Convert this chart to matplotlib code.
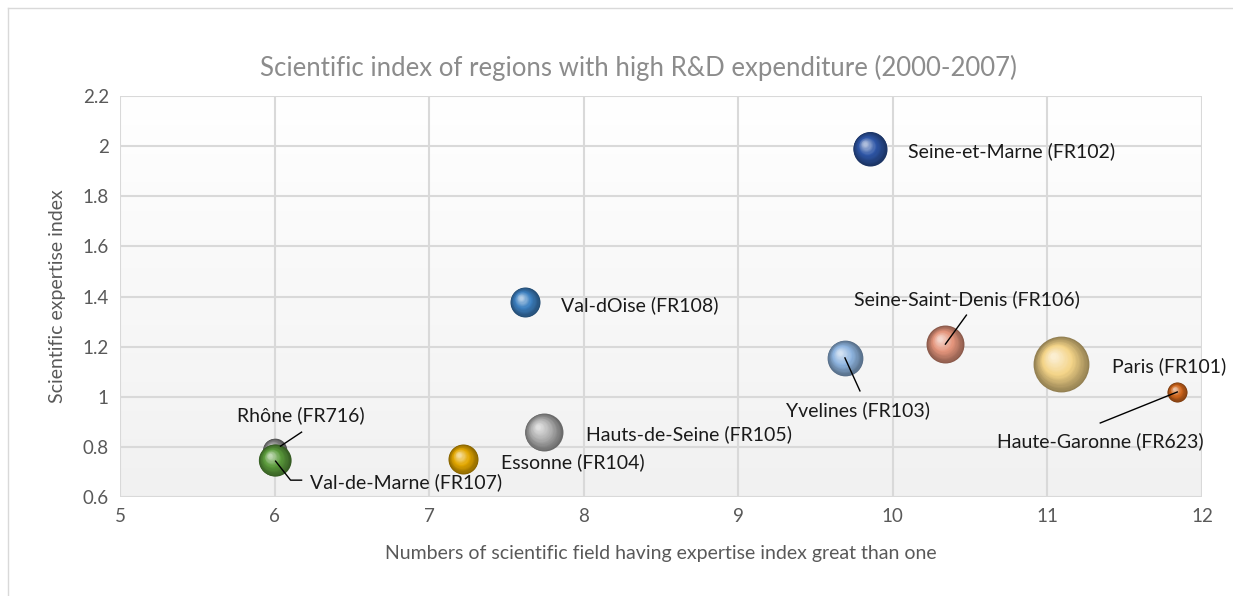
#!/usr/bin/env python3

import numpy as np
import matplotlib
matplotlib.use('Agg')
import matplotlib.pyplot as plt
import matplotlib.transforms as mtransforms
from matplotlib.lines import Line2D

plt.rcParams['font.family'] = ['Lato', 'DejaVu Sans']

regions = ['Rhône (FR716)', 'Val-de-Marne (FR107)', 'Essonne (FR104)', 'Hauts-de-Seine (FR105)',
           'Val-dOise (FR108)', 'Yvelines (FR103)', 'Seine-et-Marne (FR102)',
           'Seine-Saint-Denis (FR106)', 'Paris (FR101)', 'Haute-Garonne (FR623)']
n_fields = [6.0, 6.0, 7.22, 7.74, 7.62, 9.69, 9.85, 10.34, 11.09, 11.84]
expertise = [0.787, 0.747, 0.751, 0.859, 1.378, 1.155, 1.99, 1.21, 1.13, 1.019]
bubble = [1.4, 2.6, 2.25, 3.6, 2.25, 3.2, 2.9, 3.6, 7.8, 1.0]
colors = ['#8c8c8c', '#5b9b3c', '#e3a700', '#b0b0b0', '#3d80c0', '#8fb5e0',
          '#2e56a6', '#e4957c', '#f4d488', '#d0661c']

# label offsets (pixels from bubble centre), alignment, optional leader line
label_off = [(26, 35), (35, -22), (38, -3), (42, -2), (36, -3), (13, -52),
             (38, -3), (22, 45), (51, -2), (-77, -49)]
label_ha = ['center', 'left', 'left', 'left', 'left', 'center', 'left', 'center', 'left', 'center']
leaders = {0: [(27, 18), (6, 4)],
           1: [(1, -1), (16, -20), (27, -20)],
           5: [(15, -33), (0, 0)],
           7: [(21, 29), (0, 0)],
           9: [(-77, -31), (0, 0)]}

fig = plt.figure(figsize=(12.33, 5.96), dpi=100)
ax = fig.add_axes([120 / 1233, 1 - 497 / 596, (1202 - 120) / 1233, (497 - 96) / 596])

# plot-area background gradient
grad = np.linspace(1, 0, 256).reshape(-1, 1)
ax.imshow(grad, extent=[0, 1, 0, 1], transform=ax.transAxes, aspect='auto',
          cmap=matplotlib.colors.LinearSegmentedColormap.from_list('bg', ['#f1f1f1', '#ffffff']),
          zorder=0)

ax.set_xlim(5, 12)
ax.set_ylim(0.6, 2.2)
ax.set_xticks(np.arange(5, 13, 1))
ax.set_yticks(np.arange(0.6, 2.21, 0.2))
ax.set_yticklabels(['0.6', '0.8', '1', '1.2', '1.4', '1.6', '1.8', '2', '2.2'])
ax.grid(True, color='#d9d9d9', lw=1.5, zorder=1)
ax.set_axisbelow(True)
for s in ax.spines.values():
    s.set_visible(False)
ax.tick_params(length=0, colors='#595959', labelsize=13.5, pad=8)

def shade(c, t):
    c = np.array(matplotlib.colors.to_rgb(c))
    if t < 0.5:
        return c * (0.6 + 0.8 * t)
    return c + (1 - c) * (t - 0.5) * 1.3

for i in range(len(regions)):
    R = 10 * np.sqrt(bubble[i])  # radius in px
    nl = 30
    for k in range(nl):
        t = k / nl
        r = R * (1 - t * 0.92)
        dx = -0.3 * R * t / 100
        dy = 0.3 * R * t / 100
        tr = ax.transData + mtransforms.ScaledTranslation(dx, dy, fig.dpi_scale_trans)
        ax.scatter([n_fields[i]], [expertise[i]], s=(2 * r * 0.72) ** 2,
                   color=np.clip(shade(colors[i], t), 0, 1), transform=tr,
                   linewidths=0, zorder=3 + i * 0.01 + k * 0.0001)

for i in range(len(regions)):
    tr = fig.dpi_scale_trans + mtransforms.ScaledTranslation(n_fields[i], expertise[i], ax.transData)
    if i in leaders:
        pts = np.array(leaders[i]) / 100.0
        ax.add_line(Line2D(pts[:, 0], pts[:, 1], transform=tr, color='black', lw=1, zorder=5))
    ax.annotate(regions[i], (n_fields[i], expertise[i]), xytext=label_off[i],
                textcoords='offset pixels', ha=label_ha[i], va='center',
                fontsize=14, color='#1a1a1a', zorder=6)

ax.set_xlabel('Numbers of scientific field having expertise index great than one',
              fontsize=14, color='#595959', labelpad=14)
ax.set_ylabel('Scientific expertise index', fontsize=14, color='#595959', labelpad=12)
fig.text(638 / 1233, 1 - 68 / 596, 'Scientific index of regions with high R&D expenditure (2000-2007)',
         ha='center', va='center', fontsize=18.5, color='#8c8c8c')

# outer chart border
fig.add_artist(Line2D([8 / 1233, 8 / 1233], [0, 1 - 8 / 596], transform=fig.transFigure, color='#d9d9d9', lw=1))
fig.add_artist(Line2D([8 / 1233, 1], [1 - 8 / 596, 1 - 8 / 596], transform=fig.transFigure, color='#d9d9d9', lw=1))

fig.savefig('out.png', dpi=100)
